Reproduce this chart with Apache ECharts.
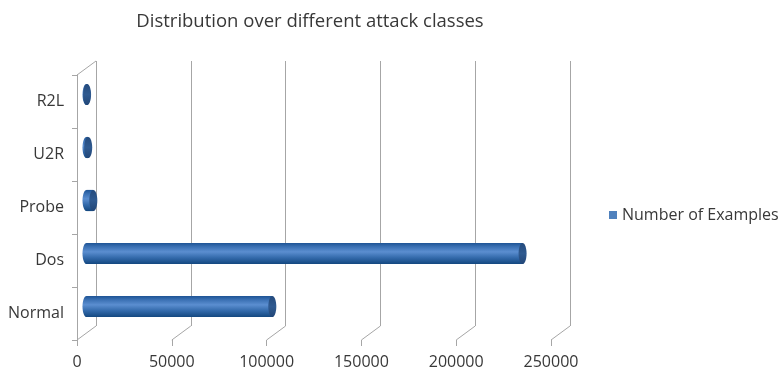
<!DOCTYPE html>
<html>
<head>
<meta charset="utf-8">
<script src="https://cdn.jsdelivr.net/npm/echarts@6/dist/echarts.min.js"></script>
<style>
  html, body { margin: 0; padding: 0; background: #ffffff; }
  #chart { width: 784px; height: 372px; }
</style>
</head>
<body>
<div id="chart"></div>
<script>
// Attack classes, bottom to top
const categories = ['Normal', 'Dos', 'Probe', 'U2R', 'R2L'];
// Number of examples per class
const exampleCounts = [98000, 230000, 3600, 900, 300];
// Value axis ticks
const axisTicks = [0, 50000, 100000, 150000, 200000, 250000];
const seriesName = 'Number of Examples';

// Pseudo-3D frame: a front plane and a back wall shifted by a fixed depth
const FRONT = { left: 77, top: 75, width: 474, height: 265 };
const DEPTH_X = 19, DEPTH_Y = 14;
const BACK = { left: FRONT.left + DEPTH_X, top: FRONT.top - DEPTH_Y, width: FRONT.width, height: FRONT.height };

const FONT = '"Open Sans", "Noto Sans", sans-serif';
const TEXT_COLOR = '#383838';
const LINE_COLOR = '#a6a6a6';

const chart = echarts.init(document.getElementById('chart'), null, { renderer: 'canvas' });

function cylinderRender(params, api) {
  const cat = api.value(1);
  const val = api.value(0);
  const start = api.coord([0, cat]);
  const end = api.coord([val, cat]);
  const h = api.size([0, 1])[1] * 0.4;
  const sx = start[0] + DEPTH_X / 2, ex = end[0] + DEPTH_X / 2;
  const cy = start[1] - DEPTH_Y / 2;
  const rx = 4;
  const bodyFill = new echarts.graphic.LinearGradient(0, 0, 0, 1, [
    { offset: 0, color: '#1d5394' },
    { offset: 0.18, color: '#3a70b3' },
    { offset: 0.42, color: '#5b8ed0' },
    { offset: 0.7, color: '#336aab' },
    { offset: 1, color: '#13477f' }
  ]);
  const capFill = new echarts.graphic.LinearGradient(0, 0, 0, 1, [
    { offset: 0, color: '#244a7c' },
    { offset: 0.5, color: '#2f5a90' },
    { offset: 1, color: '#224677' }
  ]);
  return {
    type: 'group',
    children: [
      { type: 'ellipse', shape: { cx: sx, cy: cy, rx: rx, ry: h / 2 }, style: { fill: bodyFill } },
      { type: 'rect', shape: { x: sx, y: cy - h / 2, width: Math.max(ex - sx, 0), height: h }, style: { fill: bodyFill } },
      { type: 'ellipse', shape: { cx: ex, cy: cy, rx: rx, ry: h / 2 }, style: { fill: capFill } }
    ]
  };
}

function depthLinesRender(params, api) {
  const cs = params.coordSys;
  const v = api.value(0);
  const x = api.coord([v, 0])[0];
  const bottom = cs.y + cs.height;
  const lineStyle = { stroke: LINE_COLOR, lineWidth: 1 };
  const children = [
    { type: 'line', shape: { x1: x, y1: bottom, x2: x + DEPTH_X, y2: bottom - DEPTH_Y }, style: lineStyle }
  ];
  if (params.dataIndex === 0) {
    children.push({ type: 'line', shape: { x1: cs.x, y1: cs.y, x2: cs.x + DEPTH_X, y2: cs.y - DEPTH_Y }, style: lineStyle });
  }
  return { type: 'group', children: children };
}

const option = {
  backgroundColor: '#ffffff',
  animation: false,
  title: {
    text: 'Distribution over different attack classes',
    left: 305,
    top: 7,
    textAlign: 'center',
    textStyle: { fontFamily: FONT, fontSize: 18.5, fontWeight: 'normal', color: TEXT_COLOR }
  },
  legend: {
    data: [{ name: seriesName, icon: 'rect' }],
    left: 604,
    top: 202,
    itemWidth: 8,
    itemHeight: 8,
    itemGap: 5,
    textStyle: { fontFamily: FONT, fontSize: 16, color: TEXT_COLOR }
  },
  grid: [
    Object.assign({ containLabel: false }, BACK),
    Object.assign({ containLabel: false }, FRONT)
  ],
  xAxis: [
    {
      gridIndex: 0, type: 'value', min: 0, max: 250000, interval: 50000,
      axisLine: { show: false }, axisTick: { show: false }, axisLabel: { show: false },
      splitLine: { show: true, lineStyle: { color: LINE_COLOR, width: 1 } }
    },
    {
      gridIndex: 1, type: 'value', min: 0, max: 250000, interval: 50000,
      axisLine: { show: false },
      axisTick: { show: true, length: 6, lineStyle: { color: LINE_COLOR } },
      splitLine: { show: false },
      axisLabel: {
        margin: 14, fontFamily: FONT, fontSize: 16, color: TEXT_COLOR,
        showMinLabel: true, showMaxLabel: true,
        formatter: v => String(v)
      }
    }
  ],
  yAxis: [
    {
      gridIndex: 0, type: 'category', data: categories,
      axisLine: { show: false }, axisTick: { show: false }, axisLabel: { show: false }, splitLine: { show: false }
    },
    {
      gridIndex: 1, type: 'category', data: categories,
      axisLine: { show: true, lineStyle: { color: LINE_COLOR, width: 1 } },
      axisTick: { show: true, length: 5, lineStyle: { color: LINE_COLOR } },
      axisLabel: { margin: 13, fontFamily: FONT, fontSize: 16, color: TEXT_COLOR },
      splitLine: { show: false }
    }
  ],
  series: [
    {
      type: 'custom',
      name: 'frame',
      xAxisIndex: 1, yAxisIndex: 1,
      silent: true,
      z: 1,
      renderItem: depthLinesRender,
      data: axisTicks.map(t => [t, 0])
    },
    {
      type: 'custom',
      name: seriesName,
      xAxisIndex: 1, yAxisIndex: 1,
      itemStyle: { color: '#4f81bd' },
      z: 5,
      renderItem: cylinderRender,
      encode: { x: 0, y: 1 },
      data: exampleCounts.map((v, i) => [v, i])
    }
  ]
};

chart.setOption(option);
</script>
</body>
</html>
